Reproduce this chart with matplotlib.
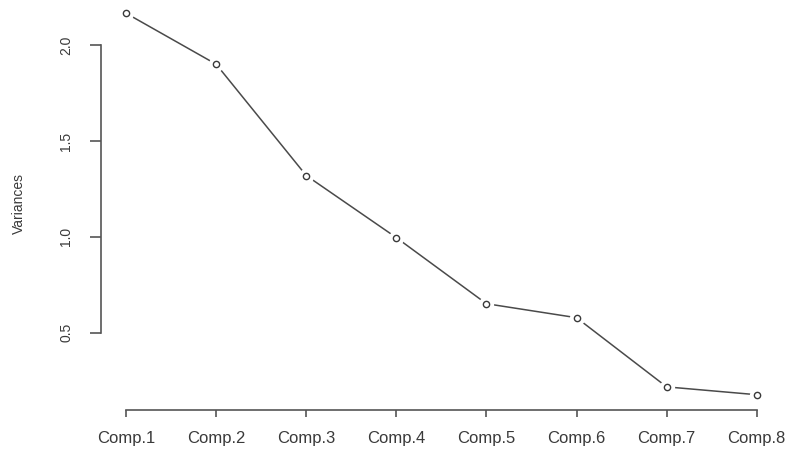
import numpy as np
import matplotlib.pyplot as plt

plt.rcParams['font.family'] = ['Liberation Sans', 'DejaVu Sans']

# screeplot data
comps = ['Comp.1', 'Comp.2', 'Comp.3', 'Comp.4', 'Comp.5', 'Comp.6', 'Comp.7', 'Comp.8']
variances = [2.167, 1.901, 1.320, 0.996, 0.651, 0.578, 0.217, 0.176]
yticks = [0.5, 1.0, 1.5, 2.0]

x = np.arange(1, len(comps) + 1)
fg = '#3a3a3a'

fig = plt.figure(figsize=(7.93, 4.49), dpi=100)
ax = fig.add_axes([0.1271, 0.0869, 0.859, 0.9176])

ax.plot(x, variances, color='#4a4a4a', lw=1.1, zorder=1)
# white halo so the line stops short of the points, like R type="b"
ax.plot(x, variances, ls='none', marker='o', ms=11, mfc='white', mec='none', zorder=2)
ax.plot(x, variances, ls='none', marker='o', ms=4.5, mfc='white', mec=fg, mew=1.0, zorder=3)

# R style 4% axis expansion
span = max(variances) - min(variances)
ax.set_ylim(min(variances) - 0.04 * span, max(variances) + 0.04 * span)
ax.set_xlim(1 - 0.04 * 7, 8 + 0.04 * 7)

ax.set_xticks(x)
ax.set_xticklabels(comps, fontsize=12, color=fg)
ax.set_yticks(yticks)
ax.set_yticklabels(['%.1f' % v for v in yticks], rotation=90, va='center',
                   fontsize=10, color=fg)
ax.set_ylabel('Variances', fontsize=10, color=fg, labelpad=24)

for s in ['top', 'right']:
    ax.spines[s].set_visible(False)
ax.spines['left'].set_bounds(yticks[0], yticks[-1])
ax.spines['bottom'].set_bounds(1, 8)
for s in ['left', 'bottom']:
    ax.spines[s].set_color('#555555')
    ax.spines[s].set_linewidth(1.2)
ax.tick_params(axis='y', length=8, width=1.2, color='#555555', pad=12)
ax.tick_params(axis='x', length=5, width=1.2, color='#555555', pad=10)

fig.savefig('out.png', dpi=100)
